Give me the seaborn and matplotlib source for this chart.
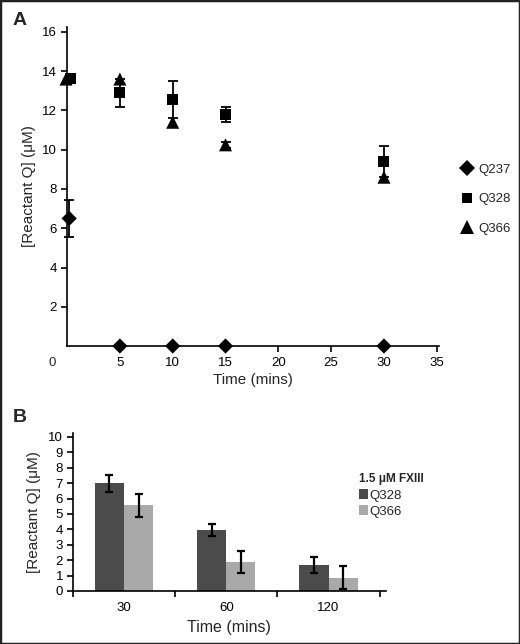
import matplotlib
matplotlib.use("Agg")
import matplotlib.pyplot as plt
from matplotlib.patches import Rectangle
import seaborn as sns
import pandas as pd
import numpy as np

# ---- panel A data: reactant Q over time ----
q237_t = [0.2, 5, 10, 15, 30]
q237_v = [6.5, 0, 0, 0, 0]
q237_e = [0.95, 0, 0, 0, 0]

q328_t = [0.3, 5, 10, 15, 30]
q328_v = [13.65, 12.9, 12.55, 11.8, 9.4]
q328_e = [0, 0.7, 0.95, 0.4, 0.8]

q366_t = [-0.1, 5, 10, 15, 30]
q366_v = [13.6, 13.6, 11.4, 10.25, 8.6]
q366_e = [0, 0, 0, 0.15, 0]

# ---- panel B data: 1.5 uM FXIII ----
times_b = ["30", "60", "120"]
b_q328 = [7.0, 3.95, 1.7]
b_q328_err = [0.55, 0.4, 0.52]
b_q366 = [5.55, 1.9, 0.85]
b_q366_err = [0.72, 0.72, 0.75]

sns.set_style("ticks")
plt.rcParams['font.family'] = ['Liberation Sans', 'DejaVu Sans']
plt.rcParams['axes.linewidth'] = 1.2
plt.rcParams['axes.edgecolor'] = 'black'
plt.rcParams['xtick.color'] = 'black'
plt.rcParams['ytick.color'] = 'black'
plt.rcParams['xtick.major.width'] = 1.2
plt.rcParams['ytick.major.width'] = 1.2
plt.rcParams['xtick.major.size'] = 4
plt.rcParams['ytick.major.size'] = 4

fig = plt.figure(figsize=(5.2, 6.44), dpi=100)

# ================= A =================
dfa = pd.DataFrame({
    "t": q237_t + q328_t + q366_t,
    "v": q237_v + q328_v + q366_v,
    "e": q237_e + q328_e + q366_e,
    "Q": ["Q237"] * 5 + ["Q328"] * 5 + ["Q366"] * 5,
})

axa = fig.add_axes([0.129, 0.4627, 0.715, 0.4953])
for name, g in dfa.groupby("Q"):
    g = g[g["e"] > 0]
    axa.errorbar(g["t"], g["v"], yerr=g["e"], fmt="none", ecolor="black",
                 elinewidth=1.3, capsize=3.5, capthick=1.3, clip_on=False, zorder=2)
sns.scatterplot(data=dfa, x="t", y="v", style="Q", size="Q",
                markers={"Q237": "D", "Q328": "s", "Q366": "^"},
                sizes={"Q237": 60, "Q328": 62, "Q366": 88},
                color="black", edgecolor="black", linewidth=0,
                ax=axa, clip_on=False, zorder=3)
axa.set_xlim(0, 35.2)
axa.set_ylim(0, 16.25)
axa.set_xticks([5, 10, 15, 20, 25, 30, 35])
axa.set_yticks([2, 4, 6, 8, 10, 12, 14, 16])
axa.text(-1.4, -0.85, "0", ha="center", va="center", fontsize=9.5)
axa.tick_params(axis="x", labelsize=9.5, pad=4)
axa.tick_params(axis="y", labelsize=9.5, pad=3.5)
axa.set_xlabel("Time (mins)", fontsize=11, labelpad=3)
axa.set_ylabel("[Reactant Q] (\u03bcM)", fontsize=11, labelpad=4)
sns.despine(ax=axa)
leg = axa.legend(loc="center left", bbox_to_anchor=(1.025, 0.46), frameon=False,
                 fontsize=9.5, labelspacing=1.3, handlelength=1.0,
                 handletextpad=0.4)

# ================= B =================
dfb = pd.DataFrame({
    "time": times_b * 2,
    "val": b_q328 + b_q366,
    "err": b_q328_err + b_q366_err,
    "Q": ["Q328"] * 3 + ["Q366"] * 3,
})

axb = fig.add_axes([0.140, 0.0823, 0.602, 0.2453])
sns.barplot(data=dfb, x="time", y="val", hue="Q", order=times_b,
            palette={"Q328": "#4b4b4b", "Q366": "#a9a9a9"},
            width=0.57, errorbar=None, ax=axb, legend=True, linewidth=0)
for cont, errs in zip(axb.containers, [b_q328_err, b_q366_err]):
    xs = [p.get_x() + p.get_width() / 2 for p in cont.patches]
    hs = [p.get_height() for p in cont.patches]
    axb.errorbar(xs, hs, yerr=errs, fmt="none", ecolor="black",
                 elinewidth=1.6, capsize=3, capthick=1.6, zorder=3)
axb.set_xlim(-0.5, 2.56)
axb.set_ylim(0, 10.25)
axb.set_yticks(range(0, 11))
axb.set_xticks([-0.5, 0.5, 1.5, 2.5], minor=False)
axb.set_xticklabels([])
axb.set_xticks([0, 1, 2], minor=True)
axb.set_xticklabels(times_b, minor=True)
axb.tick_params(axis="x", which="minor", length=0, labelsize=9.5, pad=8)
axb.tick_params(axis="y", labelsize=9.5, pad=3)
axb.set_xlabel("Time (mins)", fontsize=11.5)
axb.set_ylabel("[Reactant Q] (\u03bcM)", fontsize=11, labelpad=5)
sns.despine(ax=axb)
lg = axb.legend(title="1.5 \u03bcM FXIII", loc="upper left", bbox_to_anchor=(0.875, 0.82),
                frameon=False, fontsize=9.5, handlelength=0.7, handleheight=0.7,
                handletextpad=0.15, labelspacing=0.3, alignment="left")
lg.get_title().set_fontweight("bold")
lg.get_title().set_fontsize(8.5)

# panel letters and frame
fig.text(0.025, 0.968, "A", fontsize=14, fontweight="bold", va="center")
fig.text(0.025, 0.352, "B", fontsize=14, fontweight="bold", va="center")
fig.patches.append(Rectangle((0, 0), 1, 1, transform=fig.transFigure,
                             fill=False, edgecolor="#222222", lw=2.5))

fig.savefig("out.png", dpi=100)
